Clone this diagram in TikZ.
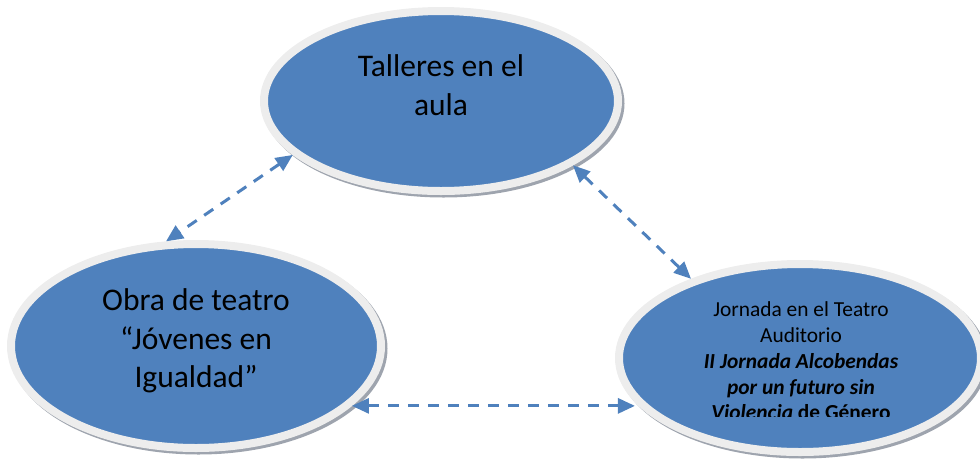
\documentclass[tikz,border=0pt]{standalone}
\usepackage{fontspec}
\setmainfont{Carlito}
\usepackage{tikz}
\usetikzlibrary{arrows.meta,shapes.geometric}
\definecolor{bubbleblue}{HTML}{4F81BD}
\definecolor{rimgray}{HTML}{EDEDED}
\definecolor{shadowgray}{HTML}{9EA4AE}
\tikzstyle{bubble} = [ellipse, fill=bubbleblue, draw=rimgray, line width=8pt,
    preaction={draw=shadowgray, line width=8pt, transform canvas={shift={(2.5pt,-2.5pt)}}}]
\tikzstyle{connector} = [draw=bubbleblue, line width=3pt, dash pattern=on 11pt off 9pt, <->, >={Triangle[length=17pt,width=15pt]}]
\tikzstyle{bigtext} = [align=center, font=\fontsize{31.5}{38.5}\selectfont]

\begin{document}
\begin{tikzpicture}[x=1pt, y=-1pt]
        \useasboundingbox (0,0) rectangle (980,459);
        \node (bubble-1) [bubble, minimum width=354pt, minimum height=180pt] at (441,101) {};
        \node (bubble-2) [bubble, minimum width=370pt, minimum height=204pt] at (196,346) {};
        \node (bubble-3) [bubble, minimum width=362pt, minimum height=188pt] at (800,358) {};
        \node (label-1) [bigtext] at (441,85) {Talleres en el\\aula};
        \node (label-2) [bigtext] at (196,341) {Obra de teatro\\“Jóvenes en\\Igualdad”};
        \begin{scope}
            \clip (600,260) rectangle (980,416);
            \node (label-3) [align=center, font=\fontsize{21.4}{25.8}\selectfont] at (801,361)
                {Jornada en el Teatro\\Auditorio\\\textbf{\textit{II Jornada Alcobendas}}\\\textbf{\textit{por un futuro sin}}\\\textbf{\textit{Violencia} de Género}};
        \end{scope}
        \draw [connector] (bubble-1.200) -- (bubble-2.106);
        \draw [connector] (bubble-1.334) -- (bubble-3.144);
        \draw [connector] (bubble-2.339) -- (bubble-2.339 -| bubble-3.195);
\end{tikzpicture}
\end{document}
